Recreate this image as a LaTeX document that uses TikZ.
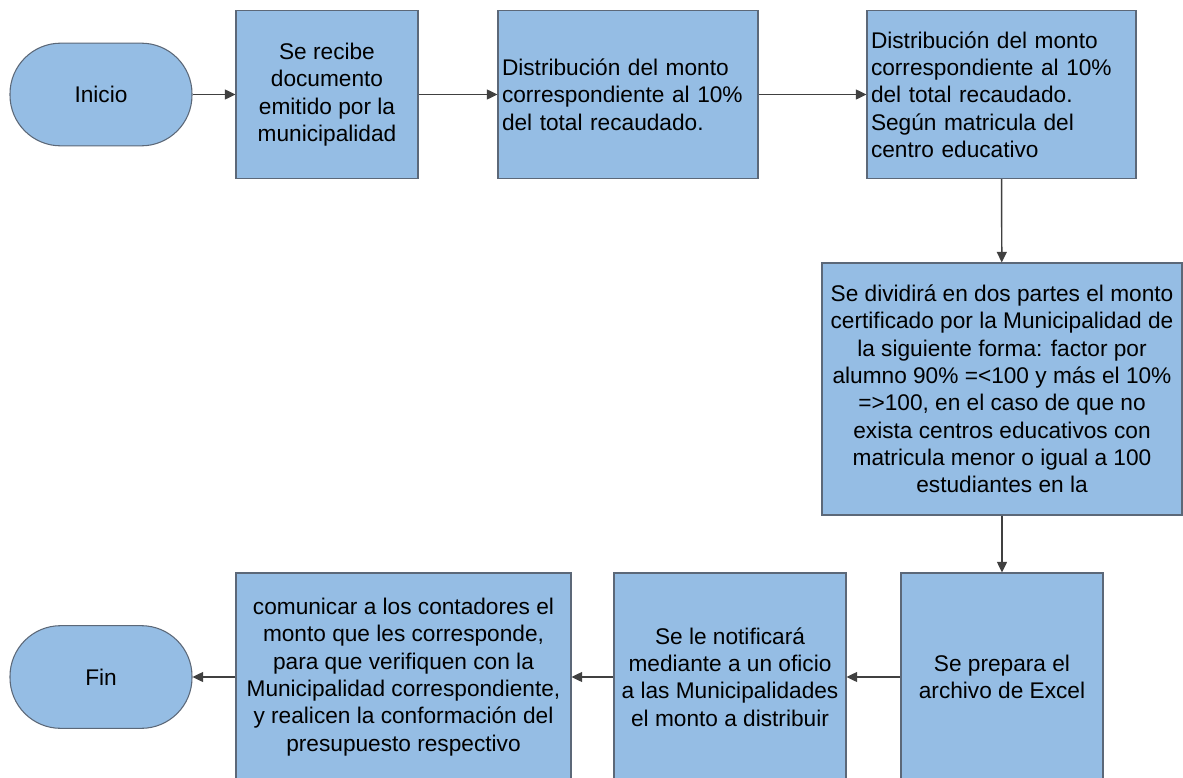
\documentclass[tikz,border=0pt]{standalone}
\usepackage{fontspec}
\setmainfont{Liberation Sans}
\usepackage{xcolor}
\usetikzlibrary{arrows.meta}

\definecolor{boxblue}{RGB}{149,189,228}
\definecolor{boxline}{RGB}{92,104,120}
\definecolor{arrowgray}{RGB}{64,64,64}

\begin{document}
\begin{tikzpicture}[x=0.75pt, y=-0.75pt,
    procbox/.style={draw=boxline, fill=boxblue, line width=0.8pt, inner sep=3pt,
      align=center, font=\fontsize{17}{20.5}\selectfont},
    leftbox/.style={procbox, align=left, text width=#1},
    terminal/.style={procbox, rounded corners=38pt, minimum width=136.5pt, minimum height=77pt},
    flow/.style={-{Triangle[length=8pt,width=7.5pt]}, draw=arrowgray, line width=1.1pt}]

  % ── page frame ──
  \useasboundingbox[fill=white] (0,0) rectangle (1183,778);

  % ── Top row ──
  \node[terminal] (inicio) at (101,94.5) {Inicio};
  \node[procbox, minimum width=136.5pt, minimum height=126pt] (recibe) at (327,94.5)
    {Se recibe\\documento\\emitido por la\\municipalidad};
  \node[leftbox=189pt, minimum height=126pt] (distrib) at (628,94.5)
    {Distribución del monto\\correspondiente al 10\%\\del total recaudado.};
  \node[leftbox=195.75pt, minimum height=126pt] (matricula) at (1001.5,94.5)
    {Distribución del monto\\correspondiente al 10\%\\del total recaudado.\\Según matricula del\\centro educativo};

  % ── Middle ──
  \node[procbox, minimum width=270pt, minimum height=189pt] (dividir) at (1002,389)
    {Se dividirá en dos partes el monto\\certificado por la Municipalidad de\\la siguiente forma: factor por\\alumno 90\% =<100 y más el 10\%\\=>100, en el caso de que no\\exista centros educativos con\\matricula menor o igual a 100\\estudiantes en la};

  % ── Bottom row ──
  \node[procbox, minimum width=151.5pt, minimum height=156pt] (excel) at (1002,677)
    {Se prepara el\\archivo de Excel};
  \node[procbox, minimum width=174pt, minimum height=156pt] (oficio) at (730,677)
    {Se le notificará\\mediante a un oficio\\a las Municipalidades\\el monto a distribuir};
  \node[procbox, minimum width=251.25pt, minimum height=156pt] (contadores) at (403.5,677)
    {comunicar a los contadores el\\monto que les corresponde,\\para que verifiquen con la\\Municipalidad correspondiente,\\y realicen la conformación del\\presupuesto respectivo};
  \node[terminal] (fin) at (101,677) {Fin};

  % ── Connectors ──
  \draw[flow] (inicio) -- (recibe);
  \draw[flow] (recibe) -- (distrib);
  \draw[flow] (distrib) -- (matricula);
  \draw[flow] (matricula) -- (dividir);
  \draw[flow] (dividir) -- (excel);
  \draw[flow] (excel) -- (oficio);
  \draw[flow] (oficio) -- (contadores);
  \draw[flow] (contadores) -- (fin);
\end{tikzpicture}
\end{document}
